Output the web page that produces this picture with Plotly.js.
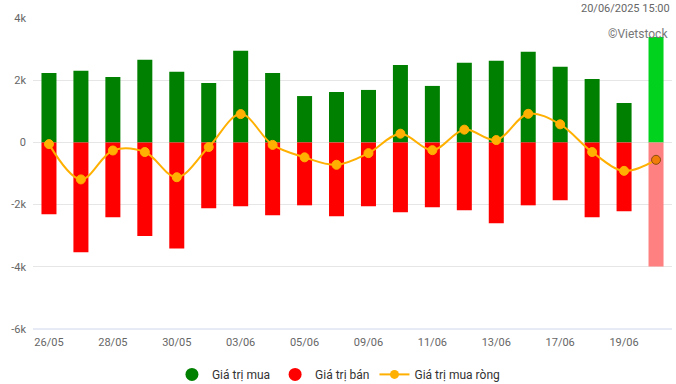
<!DOCTYPE html>
<html>
<head>
<meta charset="utf-8">
<script src="https://cdn.plot.ly/plotly-3.0.1.min.js"></script>
<style>html,body{margin:0;padding:0;background:#fff}#chart{width:676px;height:384px}</style>
</head>
<body>
<div id="chart"></div>
<script>
const dates = ["26/05","27/05","28/05","29/05","30/05","02/06","03/06","04/06","05/06","06/06",
               "09/06","10/06","11/06","12/06","13/06","16/06","17/06","18/06","19/06","20/06"];
const tickDates = ["26/05","28/05","30/05","03/06","05/06","09/06","11/06","13/06","17/06","19/06"];
const buyValues = [2235,2300,2106,2655,2270,1910,2945,2235,1490,1620,
                   1687,2490,1816,2558,2623,2913,2429,2042,1268,3387];
const sellValues = [-2313,-3530,-2410,-3010,-3410,-2120,-2055,-2345,-2023,-2377,
                    -2055,-2248,-2087,-2184,-2603,-2023,-1860,-2410,-2216,-3990];
const netValues = [-55,-1190,-260,-310,-1120,-150,910,-80,-480,-720,
                   -345,280,-250,410,75,920,580,-310,-915,-560];
const yTicks = [-6000,-4000,-2000,0,2000,4000];
const yTickText = ["-6k","-4k","-2k","0","2k","4k"];

const n = dates.length;
const buyColors = dates.map((d,i)=> i===n-1 ? "#00d21e" : "#008000");
const sellColors = dates.map((d,i)=> i===n-1 ? "#ff8080" : "#ff0000");
const netMarkerColors = dates.map((d,i)=> i===n-1 ? "#f07d0a" : "#ffb000");
const netMarkerLine = dates.map((d,i)=> i===n-1 ? "#8a4a10" : "#ffb000");

const traces = [
  {type:"bar", x:dates, y:buyValues, marker:{color:buyColors}, showlegend:false, hoverinfo:"skip"},
  {type:"bar", x:dates, y:sellValues, marker:{color:sellColors}, showlegend:false, hoverinfo:"skip"},
  {type:"scatter", mode:"lines+markers", x:dates, y:netValues, showlegend:false,
   line:{color:"#ffb000", width:2, shape:"spline", smoothing:1},
   marker:{color:netMarkerColors, size:9, line:{color:netMarkerLine, width:1}}, hoverinfo:"skip"},
  {type:"scatter", mode:"markers", x:[null], y:[null], name:"Giá trị mua",
   marker:{color:"#008000", size:13, symbol:"circle"}},
  {type:"scatter", mode:"markers", x:[null], y:[null], name:"Giá trị bán",
   marker:{color:"#ff0000", size:13, symbol:"circle"}},
  {type:"scatter", mode:"lines+markers", x:[null], y:[null], name:"Giá trị mua ròng",
   line:{color:"#ffb000", width:2}, marker:{color:"#ffb000", size:9}}
];

const layout = {
  width:676, height:384,
  margin:{l:33, r:4, t:18, b:55, autoexpand:false},
  paper_bgcolor:"#fff", plot_bgcolor:"#fff",
  font:{family:"Roboto, Arial, sans-serif", size:11, color:"#666"},
  barmode:"relative", bargap:0.53,
  xaxis:{type:"category", categoryorder:"array", categoryarray:dates,
         tickmode:"array", tickvals:tickDates, ticktext:tickDates,
         showgrid:false, zeroline:false, showline:false, ticks:"", ticklabelstandoff:5,
         tickfont:{size:11, color:"#666"}, range:[-0.5, n-0.5], fixedrange:true},
  yaxis:{range:[-6000,4000], tickmode:"array", tickvals:yTicks, ticktext:yTickText,
         gridcolor:"#e6e6e6", gridwidth:1, zeroline:true, zerolinecolor:"#e6e6e6", zerolinewidth:1,
         showline:false, ticks:"", ticklabelstandoff:6,
         tickfont:{size:11, color:"#666"}, fixedrange:true},
  shapes:[{type:"line", xref:"paper", yref:"paper", x0:0, x1:1, y0:0, y1:0,
           line:{color:"#ccd6eb", width:1}}],
  legend:{orientation:"h", x:0.478, xanchor:"center", yref:"container", y:0.025, yanchor:"middle",
          font:{size:12, color:"#333"}, itemwidth:30, tracegroupgap:0, bgcolor:"rgba(0,0,0,0)"},
  annotations:[
    {text:"20/06/2025 15:00", xref:"paper", yref:"paper", x:1, y:1, xanchor:"right", yanchor:"bottom",
     yshift:1, showarrow:false, font:{size:11, color:"#666"}},
    {text:"©Vietstock", xref:"paper", yref:"paper", x:1, y:0.95, xanchor:"right", yanchor:"middle",
     xshift:-2, showarrow:false, font:{size:12, color:"#777"}}
  ]
};

Plotly.newPlot("chart", traces, layout, {displayModeBar:false, staticPlot:true});
</script>
</body>
</html>
